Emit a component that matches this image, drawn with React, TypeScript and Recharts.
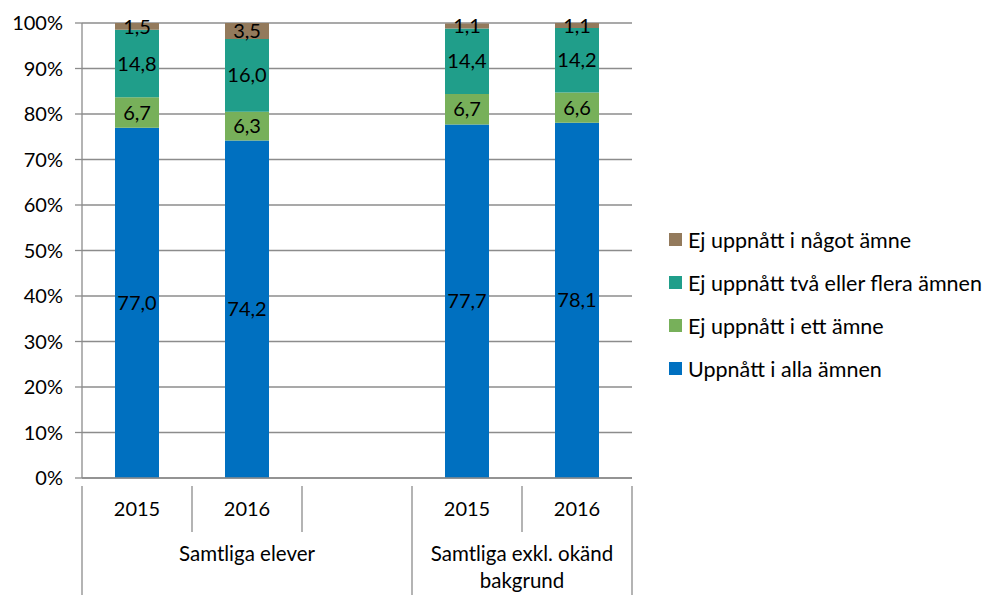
import React from 'react';
import { BarChart, Bar, XAxis, YAxis, CartesianGrid, LabelList } from 'recharts';

const years = ['2015', '2016', '', '2015', '2016'];
const groups = ['Samtliga elever', 'Samtliga elever', 'Samtliga elever', 'Samtliga exkl. okänd bakgrund', 'Samtliga exkl. okänd bakgrund'];
const uppnattAlla = [77.0, 74.2, null, 77.7, 78.1];
const ejEtt = [6.7, 6.3, null, 6.7, 6.6];
const ejTvaFlera = [14.8, 16.0, null, 14.4, 14.2];
const ejNagot = [1.5, 3.5, null, 1.1, 1.1];
const yTicks = [0, 10, 20, 30, 40, 50, 60, 70, 80, 90, 100];

const series = [
  { key: 'alla', name: 'Uppnått i alla ämnen', color: '#0070C0' },
  { key: 'ett', name: 'Ej uppnått i ett ämne', color: '#77B05A' },
  { key: 'tva', name: 'Ej uppnått två eller flera ämnen', color: '#209E8A' },
  { key: 'nagot', name: 'Ej uppnått i något ämne', color: '#937A5C' },
];

const data = years.map((y, i) => ({
  id: `c${i}`,
  year: y,
  group: groups[i],
  alla: uppnattAlla[i],
  ett: ejEtt[i],
  tva: ejTvaFlera[i],
  nagot: ejNagot[i],
}));

const W = 998;
const H = 595;
const LEFT = 82;
const RIGHT = 366;
const TOP = 23;
const AXIS_H = 117;
const FONT = 'Lato, "Open Sans", sans-serif';
const AXIS_COLOR = '#8C8C8C';
const FS = 20;

const slot = (W - LEFT - RIGHT) / years.length;

const fmt = (v: any) => (v == null ? '' : Number(v).toFixed(1).replace('.', ','));

const XTick = (props: any) => {
  const { x, y, index } = props;
  const d = data[index];
  const left = x - slot / 2;
  const right = x + slot / 2;
  const groupStart = index === 0 || data[index - 1].group !== d.group;
  const isLast = index === data.length - 1;
  const span = groupStart ? data.filter((r) => r.group === d.group).length : 0;
  const words = d.group === 'Samtliga exkl. okänd bakgrund' ? ['Samtliga exkl. okänd', 'bakgrund'] : [d.group];
  const gx = left + (span * slot) / 2;
  return (
    <g>
      <line x1={left} x2={left} y1={y} y2={groupStart ? H : y + 46} stroke={AXIS_COLOR} strokeWidth={1.3} />
      {isLast && <line x1={right} x2={right} y1={y} y2={H} stroke={AXIS_COLOR} strokeWidth={1.3} />}
      <text x={x} y={y + 30} textAnchor="middle" fontSize={FS} fill="#000" fontFamily={FONT}>
        {d.year}
      </text>
      {groupStart &&
        words.map((w, i) => (
          <text key={i} x={gx} y={y + 75 + i * 27} textAnchor="middle" fontSize={20.5} fill="#000" fontFamily={FONT}>
            {w}
          </text>
        ))}
    </g>
  );
};

const ChartLegend = () => (
  <div style={{ position: 'absolute', left: 669, top: 218, fontFamily: FONT, fontSize: 21.5, color: '#000' }}>
    {[...series].reverse().map((s) => (
      <div key={s.key} style={{ display: 'flex', alignItems: 'center', height: 43, whiteSpace: 'nowrap' }}>
        <span style={{ width: 13, height: 13, background: s.color, marginRight: 6, display: 'inline-block' }} />
        <span>{s.name}</span>
      </div>
    ))}
  </div>
);

export default function App() {
  return (
    <div style={{ position: 'absolute', left: 0, top: 0, width: W, height: H, background: '#fff' }}>
      <BarChart
        width={W}
        height={H}
        data={data}
        margin={{ top: TOP, right: RIGHT, left: 0, bottom: 0 }}
        barSize={44}
      >
        <CartesianGrid vertical={false} stroke={AXIS_COLOR} strokeWidth={1.3} />
        <XAxis
          dataKey="id"
          height={AXIS_H}
          interval={0}
          tick={<XTick />}
          tickLine={false}
          axisLine={{ stroke: AXIS_COLOR, strokeWidth: 1.3 }}
        />
        <YAxis
          width={LEFT}
          domain={[0, 100]}
          ticks={yTicks}
          interval={0}
          tickFormatter={(v) => `${v}%`}
          tick={{ fontSize: FS, fill: '#000', fontFamily: FONT }}
          tickSize={7}
          tickMargin={12}
          tickLine={{ stroke: AXIS_COLOR, strokeWidth: 1.3 }}
          axisLine={{ stroke: AXIS_COLOR, strokeWidth: 1.3 }}
        />
        {series.map((s) => (
          <Bar key={s.key} dataKey={s.key} name={s.name} stackId="a" fill={s.color} isAnimationActive={false}>
            <LabelList dataKey={s.key} position="center" formatter={fmt} fill="#000" fontSize={FS} fontFamily={FONT} />
          </Bar>
        ))}
      </BarChart>
      <ChartLegend />
    </div>
  );
}
